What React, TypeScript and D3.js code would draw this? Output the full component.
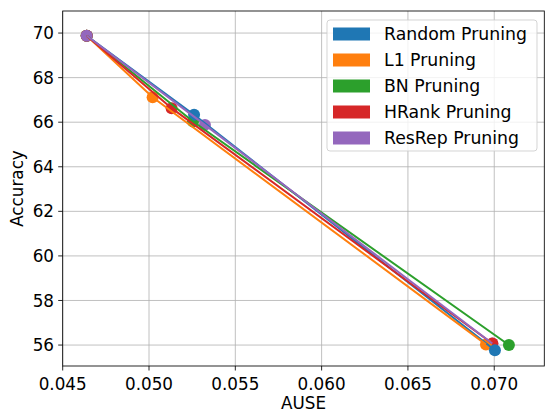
import React from "react";
import * as d3 from "d3";

const seriesNames = ["Random Pruning", "L1 Pruning", "BN Pruning", "HRank Pruning", "ResRep Pruning"];
const seriesColors = ["#1f77b4", "#ff7f0e", "#2ca02c", "#d62728", "#9467bd"];
const randomAUSE = [0.04639, 0.05261, 0.07004];
const randomAcc = [69.88, 66.33, 55.77];
const l1AUSE = [0.04639, 0.05021, 0.06952];
const l1Acc = [69.88, 67.12, 56.03];
const bnAUSE = [0.04639, 0.05255, 0.07085];
const bnAcc = [69.88, 66.03, 56.0];
const hrankAUSE = [0.04639, 0.05131, 0.06989];
const hrankAcc = [69.88, 66.63, 56.07];
const resrepAUSE = [0.04639, 0.05324, 0.06989];
const resrepAcc = [69.88, 65.88, 56.07];
const xTicks = [0.045, 0.05, 0.055, 0.06, 0.065, 0.07];
const yTicks = [56, 58, 60, 62, 64, 66, 68, 70];

const allX = [randomAUSE, l1AUSE, bnAUSE, hrankAUSE, resrepAUSE];
const allY = [randomAcc, l1Acc, bnAcc, hrankAcc, resrepAcc];

export default function App() {
  const W = 547, H = 413;
  const left = 62.7, right = 544.3, top = 11, bottom = 366;
  const x = d3.scaleLinear().domain([0.045, 0.0729]).range([left, right]);
  const y = d3.scaleLinear().domain([55.06, 70.99]).range([bottom, top]);
  const line = d3.line<[number, number]>().x(d => x(d[0])).y(d => y(d[1]));
  const font = "DejaVu Sans, sans-serif";
  const fs = 16.8;
  const lfs = 17.3;
  const legX = 327, legY = 20, legW = 210, legH = 131;
  const idx = seriesNames.map((_, i) => i);
  const rev = idx.slice().reverse();
  return (
    <svg width={W} height={H} style={{ position: "absolute", left: 0, top: 0 }}>
      <rect x={0} y={0} width={W} height={H} fill="#fff" />
      <defs>
        <clipPath id="plot">
          <rect x={left} y={top} width={right - left} height={bottom - top} />
        </clipPath>
      </defs>
      {xTicks.map(t => (
        <line key={"gx" + t} x1={x(t)} x2={x(t)} y1={top} y2={bottom} stroke="#b0b0b0" strokeWidth={0.8} />
      ))}
      {yTicks.map(t => (
        <line key={"gy" + t} x1={left} x2={right} y1={y(t)} y2={y(t)} stroke="#b0b0b0" strokeWidth={0.8} />
      ))}
      <g clipPath="url(#plot)">
        {rev.map(i =>
          allX[i].slice(1).map((v, j) => (
            <circle key={"d" + i + "-" + j} cx={x(v)} cy={y(allY[i][j + 1])} r={6} fill={seriesColors[i]} />
          ))
        )}
        {idx.map(i => (
          <circle key={"b" + i} cx={x(allX[i][0])} cy={y(allY[i][0])} r={6} fill={seriesColors[i]} />
        ))}
        {idx.map(i => {
          const pts: [number, number][] = allX[i].map((v, j) => [v, allY[i][j]]);
          return <path key={"l" + i} d={line(pts) || ""} fill="none" stroke={seriesColors[i]} strokeWidth={2} />;
        })}
      </g>
      <rect x={left} y={top} width={right - left} height={bottom - top} fill="none" stroke="#000" strokeWidth={0.85} />
      {xTicks.map(t => (
        <g key={"tx" + t}>
          <line x1={x(t)} x2={x(t)} y1={bottom} y2={bottom + 4.5} stroke="#000" strokeWidth={0.85} />
          <text x={x(t)} y={390} textAnchor="middle" fontFamily={font} fontSize={fs} fill="#000">
            {d3.format(".3f")(t)}
          </text>
        </g>
      ))}
      {yTicks.map(t => (
        <g key={"ty" + t}>
          <line x1={left - 4.5} x2={left} y1={y(t)} y2={y(t)} stroke="#000" strokeWidth={0.85} />
          <text x={54} y={y(t)} dy="0.36em" textAnchor="end" fontFamily={font} fontSize={fs} fill="#000">
            {t}
          </text>
        </g>
      ))}
      <text x={(left + right) / 2} y={409} textAnchor="middle" fontFamily={font} fontSize={fs} fill="#000">AUSE</text>
      <text transform={`translate(22.5,${(top + bottom) / 2}) rotate(-90)`} textAnchor="middle" fontFamily={font} fontSize={fs} fill="#000">Accuracy</text>
      <rect x={legX} y={legY} width={legW} height={legH} rx={3} fill="#fff" fillOpacity={0.8} stroke="#cccccc" strokeWidth={0.85} />
      {seriesNames.map((n, i) => (
        <g key={"lg" + n}>
          <rect x={333} y={34 + i * 26 - 6.5} width={37} height={13} fill={seriesColors[i]} />
          <text x={384} y={34 + i * 26} dy="0.36em" fontFamily={font} fontSize={lfs} fill="#000">{n}</text>
        </g>
      ))}
    </svg>
  );
}
